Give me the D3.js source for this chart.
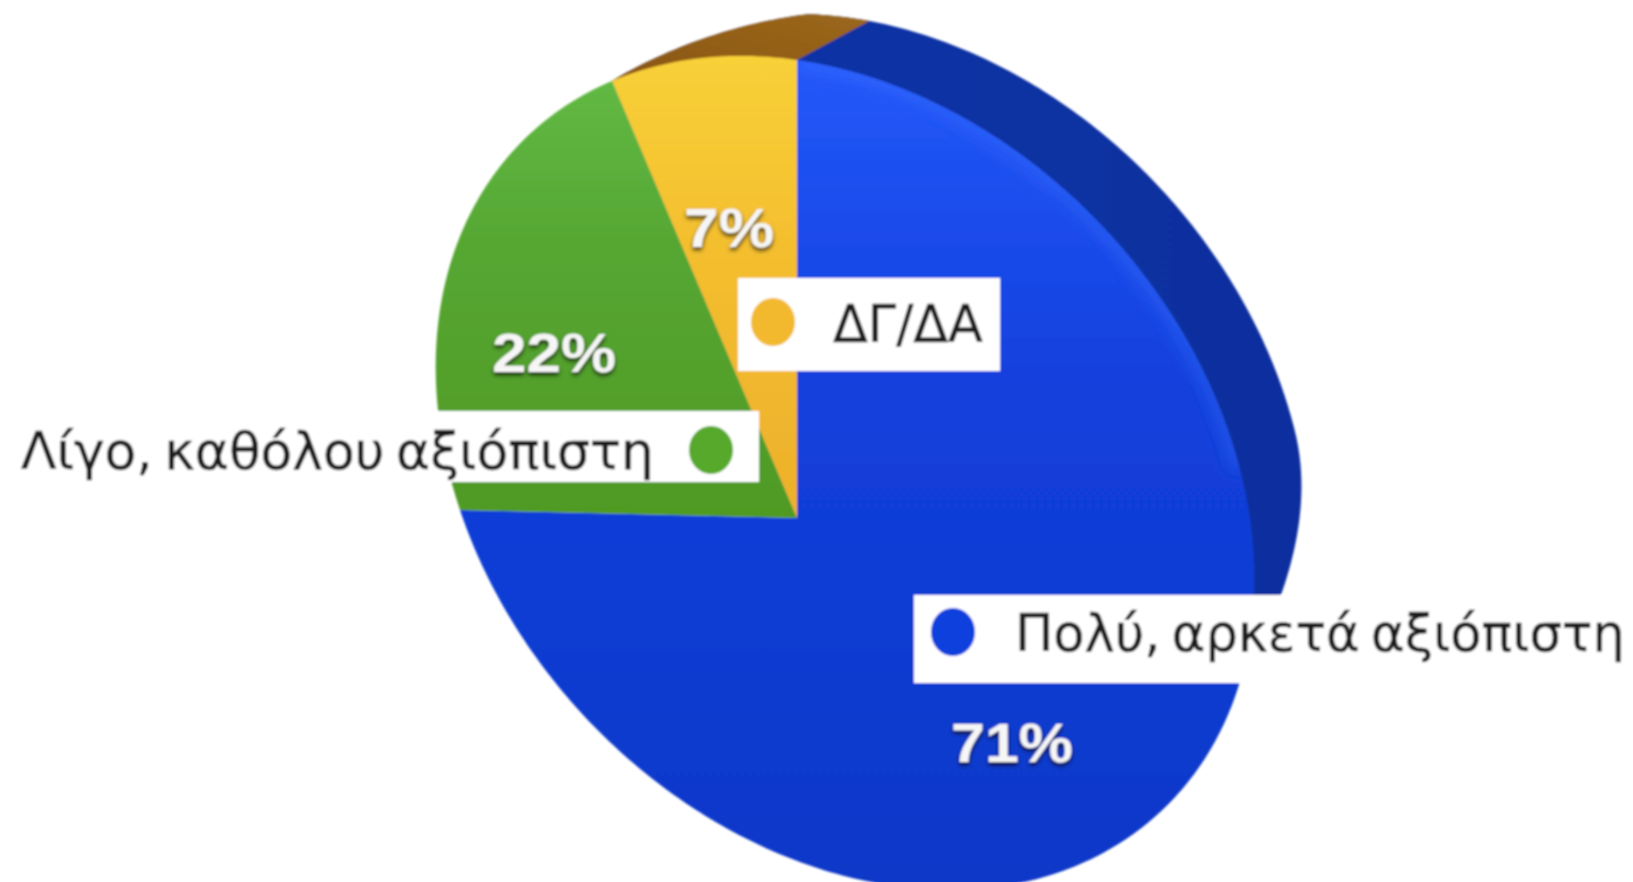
<!DOCTYPE html>
<html><head><meta charset="utf-8">
<script src="https://cdn.jsdelivr.net/npm/d3@7/dist/d3.min.js"></script>
<style>html,body{margin:0;background:#fff}svg{display:block}</style></head>
<body><svg id="c" width="1633" height="882"></svg>
<script>
const categories = ["Πολύ, αρκετά αξιόπιστη", "Λίγο, καθόλου αξιόπιστη", "ΔΓ/ΔΑ"];
const values = [71, 22, 7];
const valueLabels = ["71%", "22%", "7%"];
const faceTop = ["#2458fa", "#62bb46", "#f8d038"];
const faceMid = ["#1240dc", "#56a733", "#f4bf2f"];
const faceBottom = ["#1138c8", "#4f9a24", "#eeb02c"];
const dotColors = ["#0a3fdc", "#57a92c", "#f2b92e"];
// Screen calibration of the tilted disc: centre and slice boundaries on the rim
const srcAngles = [0, 0.71, 0.93];
const dstRim = [[797,60],[460,510],[612,81]];
const dstCentre = [797,518];
const depth = [54,-42];
const labelPos = [[1012,742],[554,352],[729,227]];
const labelWidth = [122,124,90];
const legendBoxes = [[914,595,719,88],[0,411,759,71],[738,278,262,93]];
const legendDots = [[953,632],[711,450],[773,322]];
const legendText = [[1015,651,610],[21,469,633],[833,342,150]];

function solve(A,b){const n=b.length,M=A.map((r,i)=>[...r,b[i]]);
 for(let i=0;i<n;i++){let p=i;for(let k=i+1;k<n;k++)if(Math.abs(M[k][i])>Math.abs(M[p][i]))p=k;[M[i],M[p]]=[M[p],M[i]];
  for(let k=0;k<n;k++){if(k===i)continue;const f=M[k][i]/M[i][i];for(let j=i;j<=n;j++)M[k][j]-=f*M[i][j];}}
 return M.map((r,i)=>r[n]/r[i]);}
const unit=a=>[Math.sin(a*2*Math.PI),-Math.cos(a*2*Math.PI)];
const src=[[0,0],...srcAngles.map(unit)], dst=[dstCentre,...dstRim];
const A=[],B=[];
src.forEach((s,i)=>{const[x,y]=s,[u,v]=dst[i];A.push([x,y,1,0,0,0,-u*x,-u*y]);B.push(u);A.push([0,0,0,x,y,1,-v*x,-v*y]);B.push(v);});
const h=solve(A,B);
const project=(x,y)=>{const w=h[6]*x+h[7]*y+1;return[(h[0]*x+h[1]*y+h[2])/w,(h[3]*x+h[4]*y+h[5])/w];};
const rimAt=r=>project(Math.sin(r),-Math.cos(r));
const line=d3.line();
const arcs=d3.pie().sort(null).value(d=>d)(values);
const wedge=d=>{const n=Math.max(8,Math.ceil((d.endAngle-d.startAngle)*60));
 const pts=d3.range(n+1).map(i=>rimAt(d.startAngle+(d.endAngle-d.startAngle)*i/n));
 return line([project(0,0),...pts])+"Z";};

// Back edge of the disc: the rim pushed along the depth direction; the push fades out
// at the yellow/green boundary and towards the bottom of the blue legend.
const yellowStart=arcs[2].startAngle/(2*Math.PI);
const legendBottom=legendBoxes[0][1]+legendBoxes[0][3];
const easeOut=x=>{const c=Math.max(0,Math.min(1,x));return 1-(1-c)*(1-c);};
const backPoint=t=>{
 const p=rimAt(t*2*Math.PI);
 const kTaper=Math.min(1,Math.pow((t-yellowStart)/0.055,0.72));
 const kBottom=easeOut((legendBottom-p[1])/210);
 const k=Math.min(kTaper,kBottom);
 return[p[0]+depth[0]*k,p[1]+depth[1]*k];};
const backRim=line(d3.range(301).map(i=>backPoint(yellowStart+i/300*0.5)))+"Z";

const svg=d3.select("#c"),defs=svg.append("defs");
const soft=defs.append("filter").attr("id","soft").attr("filterUnits","userSpaceOnUse").attr("x",0).attr("y",0).attr("width",1633).attr("height",882);
soft.append("feGaussianBlur").attr("stdDeviation",1.1);
const glow=defs.append("filter").attr("id","glow").attr("filterUnits","userSpaceOnUse").attr("x",0).attr("y",0).attr("width",1633).attr("height",882);
glow.append("feGaussianBlur").attr("stdDeviation",8);
const shadow=defs.append("filter").attr("id","shadow").attr("x","-20%").attr("y","-20%").attr("width","140%").attr("height","150%");
shadow.append("feDropShadow").attr("dx",0).attr("dy",3).attr("stdDeviation",2.2).attr("flood-color","#000").attr("flood-opacity",.75);
values.forEach((_,i)=>{const g=defs.append("linearGradient").attr("id","g"+i).attr("gradientUnits","userSpaceOnUse").attr("x1",0).attr("x2",0).attr("y1",60).attr("y2",i===0?882:520);
 g.append("stop").attr("offset",0).attr("stop-color",faceTop[i]);
 g.append("stop").attr("offset",.4).attr("stop-color",faceMid[i]);
 g.append("stop").attr("offset",1).attr("stop-color",faceBottom[i]);});
const bb=defs.append("linearGradient").attr("id","backBlue").attr("x1",0).attr("x2",1).attr("y1",0).attr("y2",0);
bb.append("stop").attr("offset",0).attr("stop-color","#0b33a8");bb.append("stop").attr("offset",1).attr("stop-color","#0a2f9e");
const br=defs.append("linearGradient").attr("id","backBrown").attr("x1",0).attr("x2",1).attr("y1",1).attr("y2",0);
br.append("stop").attr("offset",0).attr("stop-color","#865310");br.append("stop").attr("offset",1).attr("stop-color","#a06c1e");
defs.append("clipPath").attr("id","backClip").append("path").attr("d",backRim);
defs.append("clipPath").attr("id","faceClip").append("path").attr("d",wedge(arcs[0]));

const root=svg.append("g").attr("filter","url(#soft)");
root.append("path").attr("d",backRim).attr("fill","url(#backBlue)");
const top0=rimAt(0), yg=rimAt(arcs[2].startAngle);
root.append("path").attr("clip-path","url(#backClip)").attr("fill","url(#backBrown)")
 .attr("d",line([top0,[top0[0]+76,top0[1]-41],[top0[0]+76,-20],[yg[0]-60,-20],yg])+"Z");
root.selectAll("path.face").data(arcs).join("path").attr("class","face").attr("d",wedge).attr("fill",(d,i)=>`url(#g${i})`);
// bright edge of the blue face along its upper-right rim
root.append("g").attr("clip-path","url(#faceClip)").append("path")
 .attr("d",line(d3.range(61).map(i=>rimAt(i/60*0.19*2*Math.PI))))
 .attr("fill","none").attr("stroke","#3a70ff").attr("stroke-width",16).attr("stroke-opacity",.45).attr("filter","url(#glow)");
root.selectAll("text.pct").data(valueLabels).join("text").attr("class","pct")
 .attr("x",(d,i)=>labelPos[i][0]).attr("y",(d,i)=>labelPos[i][1]+20).attr("text-anchor","middle")
 .attr("textLength",(d,i)=>labelWidth[i]).attr("lengthAdjust","spacingAndGlyphs")
 .attr("font-family","Liberation Sans").attr("font-weight","bold").attr("font-size",56).attr("fill","#f6f6f6").attr("filter","url(#shadow)").text(d=>d);
root.selectAll("rect.box").data(legendBoxes).join("rect").attr("class","box").attr("x",d=>d[0]).attr("y",d=>d[1]).attr("width",d=>d[2]).attr("height",d=>d[3]).attr("fill","#fff");
root.selectAll("ellipse.dot").data(legendDots).join("ellipse").attr("class","dot").attr("cx",d=>d[0]).attr("cy",d=>d[1]).attr("rx",22).attr("ry",24).attr("fill",(d,i)=>dotColors[i]);
root.selectAll("text.leg").data(categories).join("text").attr("class","leg")
 .attr("font-family","DejaVu Sans").attr("font-size",52).attr("word-spacing",-5).attr("fill","#1c1c1c").attr("stroke","#1c1c1c").attr("stroke-width",.5).text(d=>d)
 .attr("transform",function(d,i){const[x,y,w]=legendText[i];return `translate(${x},${y}) scale(${w/this.getComputedTextLength()},1)`;});
</script></body></html>
